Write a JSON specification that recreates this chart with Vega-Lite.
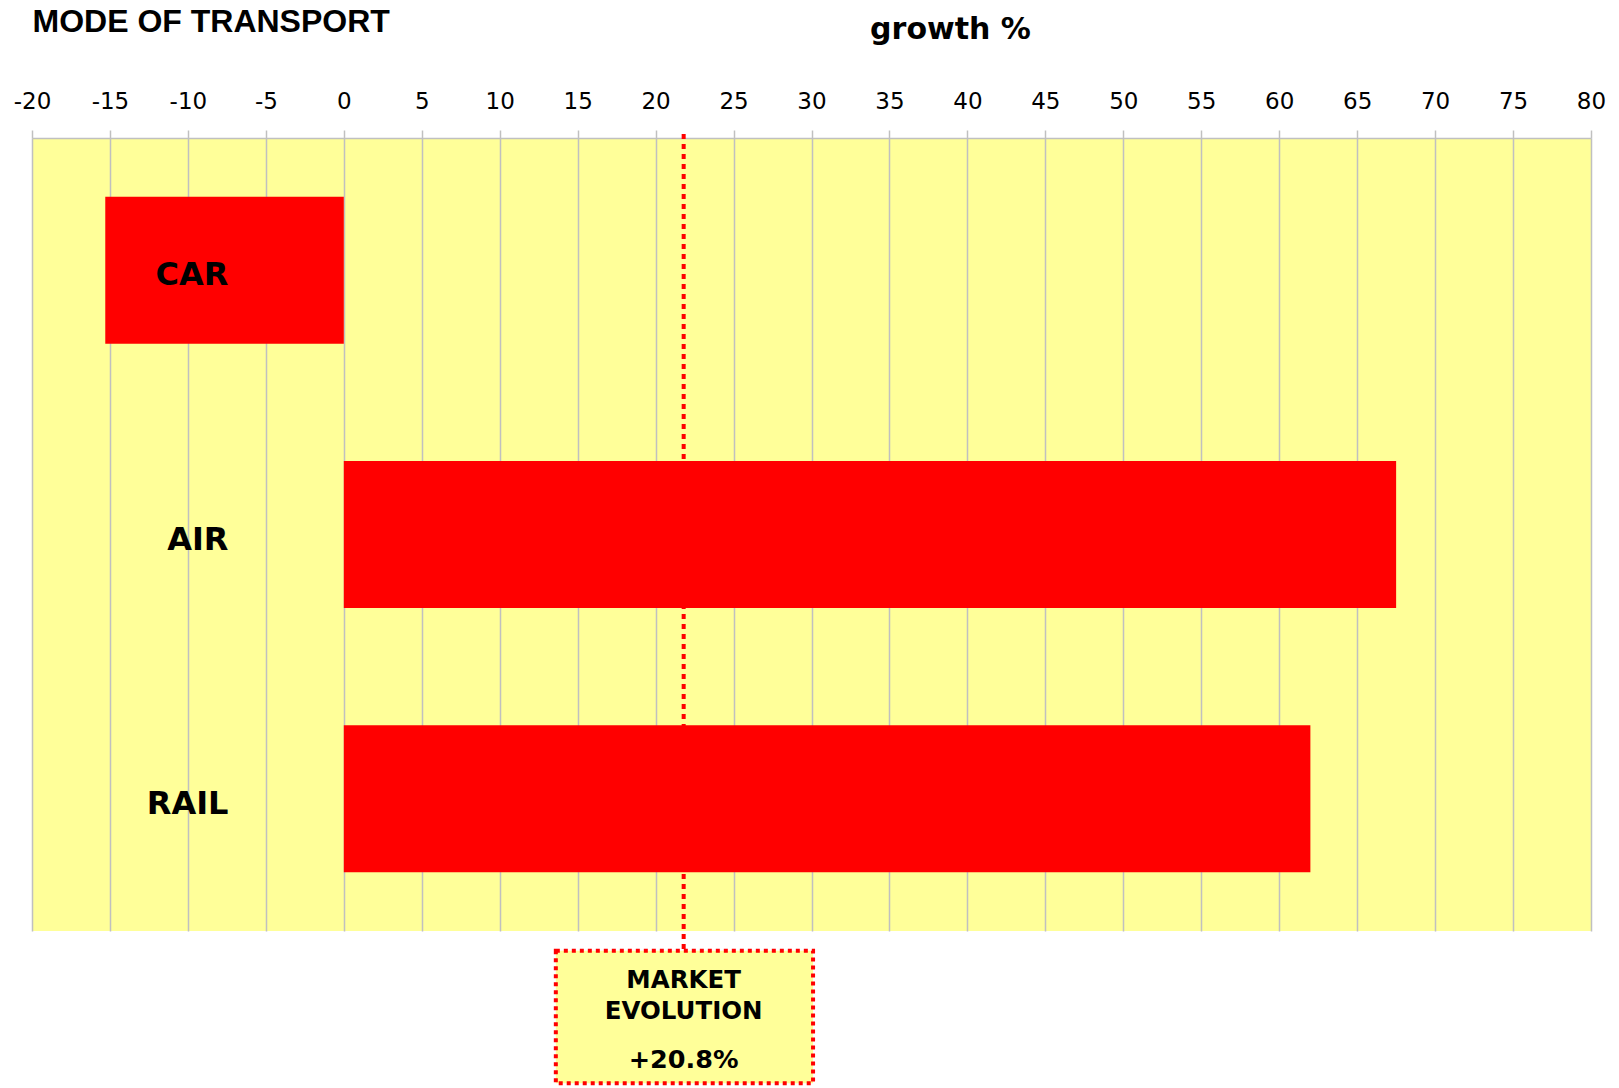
{
  "$schema": "https://vega.github.io/schema/vega-lite/v6.json",
  "width": 1559,
  "height": 793,
  "autosize": {"type": "none"},
  "padding": {"left": 32, "top": 138, "right": 28, "bottom": 157},
  "background": "white",
  "config": {"view": {"fill": "#FFFF99", "stroke": null}, "font": "DejaVu Sans"},
  "datasets": {
    "modes": [
      {"mode": "CAR", "growth": -15.3},
      {"mode": "AIR", "growth": 67.5},
      {"mode": "RAIL", "growth": 62.0}
    ],
    "market": [
      {"growth": 21.8, "title": ["MARKET", "EVOLUTION"], "change": "+20.8%"}
    ]
  },
  "layer": [
    {
      "data": {"name": "modes"},
      "mark": {"type": "bar", "color": "#FF0000"},
      "encoding": {
        "y": {
          "field": "mode", "type": "nominal", "sort": null,
          "scale": {"paddingInner": 0.444, "paddingOuter": 0.222},
          "axis": {
            "title": "MODE OF TRANSPORT", "titleAngle": 0, "titleX": 0, "titleY": -107,
            "titleAlign": "left", "titleBaseline": "alphabetic", "titleFont": "Liberation Sans",
            "titleFontSize": 32, "titleFontWeight": "bold", "titleColor": "black",
            "domain": false, "ticks": false, "tickSize": 0, "labelPadding": -196, "labelOffset": 5,
            "labelAlign": "right", "labelBaseline": "middle", "labelFont": "DejaVu Sans",
            "labelFontSize": 32, "labelFontWeight": "bold", "labelColor": "black", "zindex": 1
          }
        },
        "x": {
          "field": "growth", "type": "quantitative",
          "scale": {"domain": [-20, 80], "nice": false, "zero": false},
          "axis": {
            "orient": "top",
            "values": [-20, -15, -10, -5, 0, 5, 10, 15, 20, 25, 30, 35, 40, 45, 50, 55, 60, 65, 70, 75, 80],
            "labelExpr": "toString(datum.value)",
            "title": "growth %", "titleX": 918, "titleY": -100, "titleAlign": "center",
            "titleBaseline": "alphabetic", "titleFontSize": 30, "titleFontWeight": "bold", "titleColor": "black",
            "labelFontSize": 23, "labelColor": "black", "labelPadding": 22, "labelBaseline": "alphabetic",
            "labelFlush": false, "labelOverlap": false,
            "tickSize": 8, "tickColor": "#c0c0c0", "tickWidth": 1.5,
            "domainColor": "#c0c0c0", "domainWidth": 1.5,
            "grid": true, "gridColor": "#c0c0c0", "gridWidth": 1.5
          }
        }
      }
    },
    {
      "data": {"name": "market"},
      "mark": {"type": "rule", "color": "#FF0000", "strokeWidth": 4, "strokeDash": [5, 5]},
      "encoding": {
        "x": {"field": "growth", "type": "quantitative"},
        "y": {"datum": -0.5, "type": "quantitative", "scale": {"domain": [0, 100], "reverse": true, "nice": false, "zero": false}, "axis": null},
        "y2": {"datum": 102.5}
      }
    },
    {
      "data": {"name": "market"},
      "mark": {"type": "rect", "fill": "#FFFF99", "stroke": "#FF0000", "strokeWidth": 4, "strokeDash": [4, 4]},
      "encoding": {
        "x": {"datum": 13.6, "type": "quantitative"},
        "x2": {"datum": 30.1},
        "y": {"datum": 102.5, "type": "quantitative", "scale": {"domain": [0, 100], "reverse": true, "nice": false, "zero": false}, "axis": null},
        "y2": {"datum": 119.2}
      }
    },
    {
      "data": {"name": "market"},
      "mark": {"type": "text", "font": "DejaVu Sans", "fontWeight": "bold", "fontSize": 24.5, "lineHeight": 31, "align": "center", "baseline": "middle", "color": "black"},
      "encoding": {
        "x": {"field": "growth", "type": "quantitative"},
        "y": {"datum": 106.35, "type": "quantitative", "scale": {"domain": [0, 100], "reverse": true, "nice": false, "zero": false}, "axis": null},
        "text": {"field": "title"}
      }
    },
    {
      "data": {"name": "market"},
      "mark": {"type": "text", "font": "DejaVu Sans", "fontWeight": "bold", "fontSize": 25.5, "align": "center", "baseline": "middle", "color": "black"},
      "encoding": {
        "x": {"field": "growth", "type": "quantitative"},
        "y": {"datum": 116.3, "type": "quantitative", "scale": {"domain": [0, 100], "reverse": true, "nice": false, "zero": false}, "axis": null},
        "text": {"field": "change"}
      }
    }
  ],
  "resolve": {"scale": {"y": "independent"}}
}
